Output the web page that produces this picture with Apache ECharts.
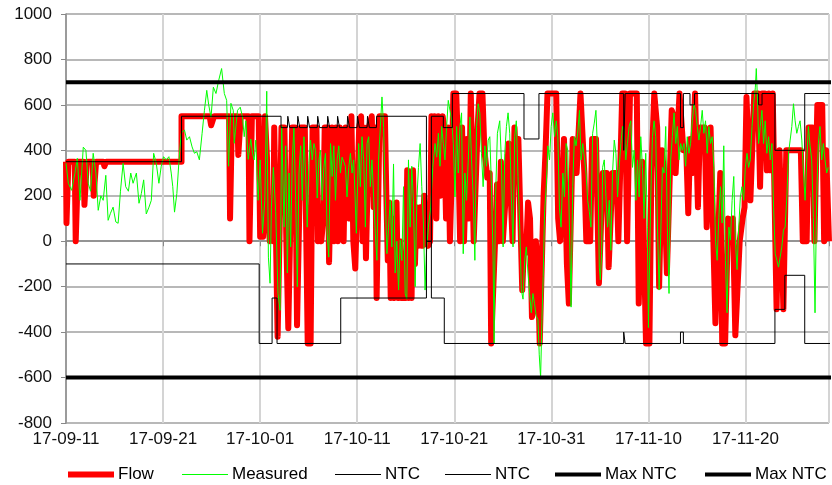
<!DOCTYPE html>
<html>
<head>
<meta charset="utf-8">
<script src="https://cdn.jsdelivr.net/npm/echarts@6/dist/echarts.min.js"></script>
<style>
html, body { margin: 0; padding: 0; background: #fff; }
#main { width: 832px; height: 485px; }
</style>
</head>
<body>
<div id="main"></div>
<script>
// x values are days since 2017-09-11
var xTickLabels = ['17-09-11', '17-09-21', '17-10-01', '17-10-11', '17-10-21', '17-10-31', '17-11-10', '17-11-20', '17-11-30'];

var flow = [
  [0,350],[0.05,80],[0.25,350],[0.9,350],[1.0,0],[1.15,0],[1.25,350],[1.8,350],[1.9,160],[2.05,160],[2.15,350],
  [2.75,350],[2.85,200],[3.0,200],[3.1,350],[3.85,350],[3.95,330],[4.05,330],[4.15,350],[11.9,350],[11.9,550],
  [14.8,550],[14.95,510],[15.1,510],[15.25,550],[16.8,550],[16.9,100],[17.0,100],[17.1,550],[17.65,550],[17.75,380],
  [17.9,380],[18.0,550],[18.8,550],[18.9,0],[19.05,0],[19.15,550],[19.85,550],
  [20.0,20],[20.3,20],[20.5,550],[20.7,370],[20.8,100],[21.0,0],[21.2,175],[21.35,0],[21.45,500],[21.6,100],
  [21.8,-420],[22.0,-420],[22.2,500],[22.5,500],[22.7,0],[22.9,-383],[23.05,-383],[23.3,500],[23.6,500],[23.8,-370],
  [24.0,-370],[24.2,500],[24.6,500],[24.9,-450],[25.2,-450],[25.4,500],[25.8,500],[25.95,0],[26.1,150],[26.3,0],
  [26.5,100],[26.65,500],[26.95,500],[27.1,-92],[27.25,-92],[27.4,500],[27.6,0],[27.8,500],[28.0,0],[28.2,500],
  [28.4,500],[28.6,0],[28.8,500],[29.0,300],[29.2,100],[29.4,550],[29.6,0],[29.8,-120],[30.0,-120],
  [30.2,500],[30.4,550],[30.55,0],[30.7,500],[30.9,-75],[31.05,-75],[31.2,500],[31.5,550],[31.7,150],[31.85,500],
  [32.0,-250],[32.15,-250],[32.3,550],[32.85,550],[33.0,200],[33.15,-84],[33.3,170],[33.45,-250],[33.6,100],
  [33.75,-250],[33.9,-100],[34.05,170],[34.2,-250],[34.4,0],[34.6,-250],[35.0,-250],[35.15,312],[35.3,-250],
  [35.45,250],[35.6,-250],[35.75,312],[35.95,-100],[36.1,150],[36.3,-20],[36.5,150],[36.7,-20],[36.9,200],[37.1,0],
  [37.3,-20],[37.5,0],[37.65,550],[37.8,300],[37.95,550],[38.15,100],[38.35,550],[38.55,200],[38.8,550],[38.95,500],
  [39.15,100],[39.35,500],[39.55,0],[39.75,300],[39.9,650],[40.2,650],
  [40.4,400],[40.6,0],[40.8,500],[41.0,0],[41.3,450],[41.5,100],[41.7,650],[41.85,650],[42.0,0],[42.2,0],[42.4,500],
  [42.6,650],[42.9,650],[43.1,400],[43.4,280],[43.65,300],[43.8,-450],[44.0,-450],[44.2,0],[44.4,250],[44.6,0],
  [44.8,350],[45.0,0],[45.3,200],[45.6,430],[45.8,430],[46.0,0],[46.2,500],[46.4,300],[46.6,450],[46.8,450],
  [47.0,-215],[47.2,0],[47.4,-50],[47.6,170],[47.8,100],[48.0,-334],[48.2,-300],[48.4,0],[48.6,-100],[48.8,-450],
  [49.0,-450],[49.2,200],[49.4,400],[49.6,650],[50.5,650],[50.7,100],[50.9,0],[51.1,0],[51.3,450],[51.6,-100],
  [51.8,-274],[52.0,-274],[52.2,450],[52.4,450],[52.6,300],[52.8,300],[53.0,650],[53.2,650],[53.4,300],[53.6,0],
  [54.0,0],[54.2,450],[54.6,450],[54.9,-185],[55.1,-185],[55.3,300],[55.7,300],[55.9,-114],[56.1,-114],[56.3,300],
  [56.7,300],[56.9,0],[57.1,0],[57.3,650],[57.6,650],[57.8,0],[58.0,0],[58.1,650],[58.8,650],[59.0,-274],[59.2,-274],
  [59.35,350],[59.55,350],[59.75,-450],[60.1,-450],
  [60.3,300],[60.6,650],[60.75,650],[60.9,500],[61.1,-200],[61.25,-200],[61.4,400],[61.6,300],[61.9,-141],
  [62.1,-141],[62.4,576],[62.6,550],[62.8,300],[63.0,300],[63.2,650],[63.4,650],[63.6,400],[63.9,400],[64.1,123],
  [64.3,450],[64.5,300],[64.8,650],[64.95,650],[65.1,150],[65.3,500],[65.8,500],[66.0,62],[66.2,62],[66.4,500],
  [66.6,500],[66.9,-361],[67.1,-361],[67.4,300],[67.6,-450],[67.9,-450],[68.2,100],[68.5,0],[68.7,100],[68.95,-414],
  [69.15,-414],[69.4,0],[69.7,100],[69.9,150],[70.1,635],[70.3,635],[70.5,180],[70.7,180],[70.9,650],[71.3,650],
  [71.5,240],[71.7,650],[72.0,650],[72.2,312],[72.4,650],[72.6,312],[72.8,650],[73.0,650],[73.2,-299],[73.4,-299],
  [73.5,400],[73.7,400],[73.9,-299],[74.0,-299],[74.2,400],[75.7,400],[75.9,0],[76.3,0],[76.5,500],[76.9,500],
  [77.1,0],[77.3,0],[77.4,600],[77.9,600],[78.1,0],[78.3,400],[78.6,0]
];

var measured = [
  [0,343],[0.24,255],[0.58,224],[0.92,299],[1.16,365],[1.44,180],[1.78,414],[2.05,400],[2.29,255],[2.53,220],
  [2.8,387],[3.08,300],[3.32,136],[3.59,200],[3.83,180],[4.1,290],[4.34,92],[4.58,123],[4.85,150],[5.13,85],
  [5.37,79],[5.61,220],[5.88,343],[6.15,240],[6.43,220],[6.67,300],[6.91,255],[7.25,300],[7.52,167],[7.76,210],
  [8.0,270],[8.27,120],[8.55,150],[8.79,180],[9.03,387],[9.3,343],[9.57,255],[9.81,330],[10.05,372],[10.32,358],
  [10.6,372],[10.84,300],[11.0,240],[11.18,128],[11.42,210],[11.62,343],[11.86,475],[12.2,490],[12.44,445],
  [12.72,460],[12.99,415],[13.23,387],[13.47,394],[13.74,358],[14.02,475],[14.26,576],[14.5,664],[14.7,600],
  [14.94,545],[15.18,678],[15.45,650],[15.73,708],[16.03,760],[16.31,650],[16.55,620],[16.75,330],[16.99,607],
  [17.23,576],[17.33,431],[17.67,576],[17.95,590],[18.18,547],[18.36,460],[18.53,530],[18.77,360],[19.04,450],
  [19.21,387],[19.38,358],[19.55,445],[19.79,180],[20.0,358],[20.24,35],[20.48,180],[20.68,660],[20.85,-70],
  [21.02,-185],[21.16,150],[21.36,325],[21.6,130],[21.84,-230],[22.05,-304],[22.22,508],[22.46,62],[22.63,420],
  [22.8,-140],[22.97,300],[23.14,-25],[23.31,358],[23.48,500],[23.66,180],[23.83,-200],[24.0,300],[24.17,420],
  [24.34,180],[24.51,460],[24.68,300],[24.85,62],[25.02,343],[25.19,445],[25.36,358],[25.54,430],[25.71,400],
  [25.88,190],[26.05,358],[26.22,400],[26.39,180],[26.56,325],[26.73,387],[26.9,35],[27.07,-70],[27.25,430],
  [27.42,285],[27.59,420],[27.76,180],[27.93,358],[28.1,420],[28.27,300],[28.44,370],[28.61,370],[28.78,330],
  [28.95,195],[29.13,325],[29.3,387],[29.47,300],[29.64,358],[29.91,35],[30.15,430],[30.32,240],[30.49,460],
  [30.67,358],[30.84,62],[31.01,430],[31.18,460],[31.35,240],[31.52,358],[31.69,195],[31.86,35],[32.03,-84],
  [32.2,358],[32.38,358],[32.55,635],[32.72,500],[32.89,195],[33.06,-55],[33.23,62],[33.4,180],[33.57,-25],
  [33.74,340],[33.91,-140],[34.08,0],[34.26,-215],[34.43,5],[34.6,-85],[34.77,240],[34.94,-230],[35.11,-255],
  [35.28,358],[35.45,62],[35.62,330],[35.79,180],[35.97,-200],[36.14,180],[36.31,325],[36.48,430],[36.65,240],
  [36.82,80],[36.99,-215],[37.16,-25],[37.33,62],[37.57,150],[37.78,325],[38.02,430],[38.19,370],[38.36,475],
  [38.53,330],[38.7,505],[38.87,430],[39.04,358],[39.21,505],[39.38,620],[39.55,576],[39.73,530],[39.9,430],
  [40.07,195],[40.24,505],[40.41,300],[40.58,505],[40.75,565],[40.92,-55],[41.09,300],[41.26,180],[41.44,358],
  [41.61,547],[41.78,358],[41.95,195],[42.12,-84],[42.29,505],[42.46,605],[42.63,565],[42.8,387],[42.97,240],
  [43.15,420],[43.32,330],[43.49,445],[43.66,460],[43.83,240],[44.0,-84],[44.1,-450],[44.24,180],[44.44,475],
  [44.68,530],[44.85,358],[45.03,-25],[45.2,387],[45.37,505],[45.54,565],[45.71,475],[45.88,195],[46.05,-25],
  [46.22,460],[46.39,530],[46.56,285],[46.74,62],[46.91,-215],[47.08,-255],[47.25,-84],[47.42,-25],[47.59,-140],
  [47.76,-230],[47.93,-315],[48.1,-230],[48.27,-275],[48.44,-330],[48.62,-345],[48.75,-500],[48.89,-600],
  [49.03,-345],[49.16,-155],[49.3,130],[49.47,240],[49.64,420],[49.81,358],[49.98,505],[50.15,565],[50.33,460],
  [50.5,530],[50.67,460],[50.83,150],[51.0,62],[51.18,300],[51.35,195],[51.52,430],[51.69,400],[51.86,62],
  [52.03,-290],[52.2,240],[52.37,460],[52.54,420],[52.71,475],[52.89,576],[53.06,358],[53.23,430],[53.4,370],
  [53.57,300],[53.74,180],[53.91,130],[54.08,62],[54.25,475],[54.42,520],[54.59,576],[54.77,387],[54.94,-114],
  [55.04,-170],[55.18,-55],[55.28,325],[55.45,358],[55.62,195],[55.79,62],[55.96,180],[56.13,-40],[56.3,300],
  [56.48,445],[56.65,387],[56.82,195],[56.99,330],[57.16,430],[57.33,505],[57.5,490],[57.67,358],[57.84,430],
  [58.01,505],[58.18,530],[58.36,325],[58.53,400],[58.7,180],[58.87,358],[59.04,195],[59.21,460],[59.38,325],
  [59.55,100],[59.72,387],[59.89,62],[60.0,-380],[60.24,195],[60.41,460],[60.58,530],[60.75,460],[60.93,62],
  [61.1,-215],[61.27,35],[61.44,325],[61.61,300],[61.78,505],[61.95,62],[62.12,-230],[62.29,358],[62.46,460],
  [62.64,565],[62.81,430],[62.98,505],[63.15,358],[63.32,430],[63.49,400],[63.66,430],[63.83,330],[64.0,460],
  [64.17,387],[64.34,430],[64.52,530],[64.69,605],[64.86,576],[65.03,505],[65.2,445],[65.37,505],[65.54,576],
  [65.71,475],[65.88,530],[66.05,387],[66.22,505],[66.4,430],[66.57,460],[66.74,325],[66.91,0],[67.08,-84],
  [67.25,105],[67.42,240],[67.59,80],[67.76,420],[67.93,-84],[68.1,-315],[68.28,62],[68.45,5],[68.62,180],
  [68.79,285],[68.96,0],[69.13,-125],[69.3,62],[69.47,195],[69.64,240],[69.81,180],[69.98,325],[70.15,387],
  [70.32,325],[70.49,358],[70.67,505],[70.84,605],[71.01,675],[71.11,760],[71.25,605],[71.35,430],[71.52,505],
  [71.69,576],[71.86,430],[72.03,530],[72.2,387],[72.38,460],[72.55,358],[72.72,430],[72.89,150],[73.06,-55],
  [73.23,-84],[73.4,-114],[73.57,-70],[73.74,-25],[73.91,50],[74.08,62],[74.26,195],[74.43,387],[74.6,445],
  [74.77,505],[74.94,605],[75.11,530],[75.28,475],[75.45,505],[75.62,530],[75.8,445],[75.97,300],[76.14,180],
  [76.31,358],[76.48,505],[76.65,420],[76.82,358],[76.99,105],[77.16,-315],[77.33,195],[77.5,430],[77.67,505],
  [77.85,358],[78.02,430],[78.19,358],[78.36,300],[78.53,325]
];

var ntcUpper = [
  [0,350],[11.9,350],[11.9,550],[22.15,550],[22.15,500],
  [22.80,500],[22.85,550],[22.99,550],[23.04,500],
  [23.83,500],[23.88,550],[24.02,550],[24.07,500],
  [24.85,500],[24.90,550],[25.04,550],[25.09,500],
  [25.88,500],[25.93,550],[26.07,550],[26.12,500],
  [26.91,500],[26.96,550],[27.10,550],[27.15,500],
  [27.93,500],[27.98,550],[28.12,550],[28.17,500],
  [28.96,500],[29.01,550],[29.15,550],[29.20,500],
  [29.98,500],[30.03,550],[30.17,550],[30.22,500],
  [31.01,500],[31.06,550],[31.20,550],[31.25,500],
  [31.97,500],[32.0,550],[37.13,550],[37.13,0],[37.64,0],[37.64,550],[38.87,550],[38.87,500],[39.8,500],
  [39.8,650],[47.18,650],[47.18,450],[48.72,450],[48.72,650],[57.45,650],[57.45,400],[57.6,400],[57.6,650],
  [63.3,650],[63.3,500],[63.6,500],[63.6,650],[64.28,650],[64.28,600],[64.75,600],[64.75,650],[71.35,650],
  [71.35,600],[71.7,600],[71.7,650],[73.03,650],[73.03,400],[76.1,400],[76.1,650],[80,650]
];

var ntcLower = [
  [0,-100],[19.9,-100],[19.9,-450],[21.23,-450],[21.23,-250],[21.74,-250],[21.74,-450],[28.3,-450],[28.3,-250],
  [37.13,-250],[37.13,0],[37.64,0],[37.64,-250],[38.97,-250],[38.97,-450],[57.45,-450],[57.45,-400],[57.6,-400],
  [57.6,-450],[63.3,-450],[63.3,-400],[63.6,-400],[63.6,-450],[73.03,-450],[73.03,-300],[74.05,-300],[74.05,-150],
  [76.1,-150],[76.1,-450],[80,-450]
];

var maxNtcUpper = [[0,700],[80,700]];
var maxNtcLower = [[0,-600],[80,-600]];

var chartDom = document.getElementById('main');
var myChart = echarts.init(chartDom);
var font = 'Liberation Sans, Arial, sans-serif';

function legendAt(name, left, thick) {
  return {
    data: [name],
    left: left,
    top: 466,
    padding: 0,
    icon: 'rect',
    itemWidth: 46,
    itemHeight: thick,
    itemGap: 4,
    textStyle: { fontFamily: font, fontSize: 17, color: '#000', padding: [0, 0, 0, -1] }
  };
}

var option = {
  animation: false,
  backgroundColor: '#fff',
  grid: { left: 66, right: 0, top: 14, bottom: 62 },
  legend: [
    legendAt('Flow', 68, 6),
    legendAt('Measured', 182, 1),
    legendAt('NTC', 335, 1),
    legendAt('NTC ', 445, 1),
    legendAt('Max NTC', 555, 4),
    legendAt('Max NTC ', 705, 4)
  ],
  xAxis: {
    type: 'value',
    min: 0,
    max: 78.6,
    interval: 10,
    axisLine: { lineStyle: { color: '#888', width: 1.5 } },
    axisTick: { show: true, length: 5, lineStyle: { color: '#888' } },
    axisLabel: {
      fontFamily: font, fontSize: 17, color: '#111', margin: 8,
      formatter: function (v) {
        return v % 10 === 0 ? xTickLabels[v / 10] : '';
      }
    },
    splitLine: { show: true, lineStyle: { color: '#d4d4d4', width: 2 } }
  },
  yAxis: {
    type: 'value',
    min: -800,
    max: 1000,
    interval: 200,
    axisLine: { show: true, lineStyle: { color: '#888', width: 1.5 } },
    axisTick: { show: true, length: 5, lineStyle: { color: '#888' } },
    axisLabel: {
      fontFamily: font, fontSize: 17, color: '#111', margin: 14,
      formatter: function (v) { return String(v); }
    },
    splitLine: { lineStyle: { color: '#a0a0a0', width: 1.5 } }
  },
  series: [
    {
      name: 'Flow', type: 'line', data: flow, symbol: 'none',
      lineStyle: { color: '#ff0000', width: 6, join: 'round' }, itemStyle: { color: '#ff0000' }
    },
    {
      name: 'Measured', type: 'line', data: measured, symbol: 'none',
      lineStyle: { color: '#00ff00', width: 1 }, itemStyle: { color: '#00ff00' }
    },
    {
      name: 'NTC', type: 'line', data: ntcUpper, symbol: 'none',
      lineStyle: { color: '#000', width: 1 }, itemStyle: { color: '#000' }
    },
    {
      name: 'NTC ', type: 'line', data: ntcLower, symbol: 'none',
      lineStyle: { color: '#000', width: 1 }, itemStyle: { color: '#000' }
    },
    {
      name: 'Max NTC', type: 'line', data: maxNtcUpper, symbol: 'none',
      lineStyle: { color: '#000', width: 4 }, itemStyle: { color: '#000' }
    },
    {
      name: 'Max NTC ', type: 'line', data: maxNtcLower, symbol: 'none',
      lineStyle: { color: '#000', width: 4 }, itemStyle: { color: '#000' }
    }
  ]
};

option && myChart.setOption(option);
</script>
</body>
</html>
